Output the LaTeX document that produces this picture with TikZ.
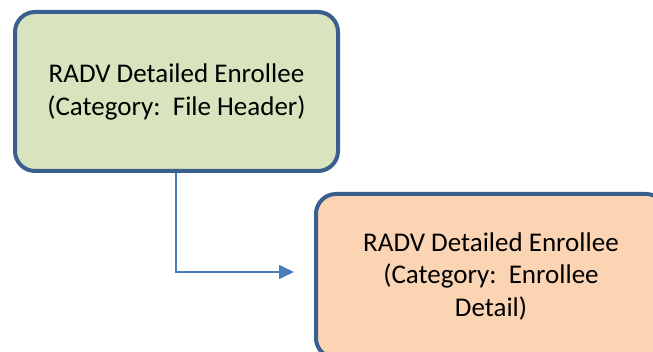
\documentclass[tikz,border=0pt]{standalone}
\usepackage{fontspec}
\setmainfont{Carlito}
\usetikzlibrary{arrows.meta}
\definecolor{bordc}{HTML}{3A5F8E}
\definecolor{greenf}{HTML}{D7E4BD}
\definecolor{orangef}{HTML}{FBD4B4}
\definecolor{arrc}{HTML}{4A7EBB}
\begin{document}
\begin{tikzpicture}[x=1pt,y=-1pt,
  boxst/.style={draw=bordc,line width=4pt,rounded corners=20pt},
  lbl/.style={align=center,font=\fontsize{27}{32.5}\selectfont,inner sep=0pt},
  conn/.style={draw=arrc,line width=1.6pt,-{Triangle[length=15pt,width=14pt]}}]
\useasboundingbox (0,0) rectangle (653,352);
\begin{scope}
\clip (0,0) rectangle (653,352);
\draw[boxst,fill=greenf] (15,12) rectangle (338,171);
\node[lbl] (t1) at (176.5,92) {RADV Detailed Enrollee\\(Category:\ \ File Header)};
\draw[boxst,fill=orangef] (316,194) rectangle (666,358);
\node[lbl] (t2) at (491,276) {RADV Detailed Enrollee\\(Category:\ \ Enrollee\\Detail)};
\coordinate (s) at (176,173);
\coordinate (e) at (294,272);
\draw[conn] (s) |- (e);
\end{scope}
\end{tikzpicture}
\end{document}
